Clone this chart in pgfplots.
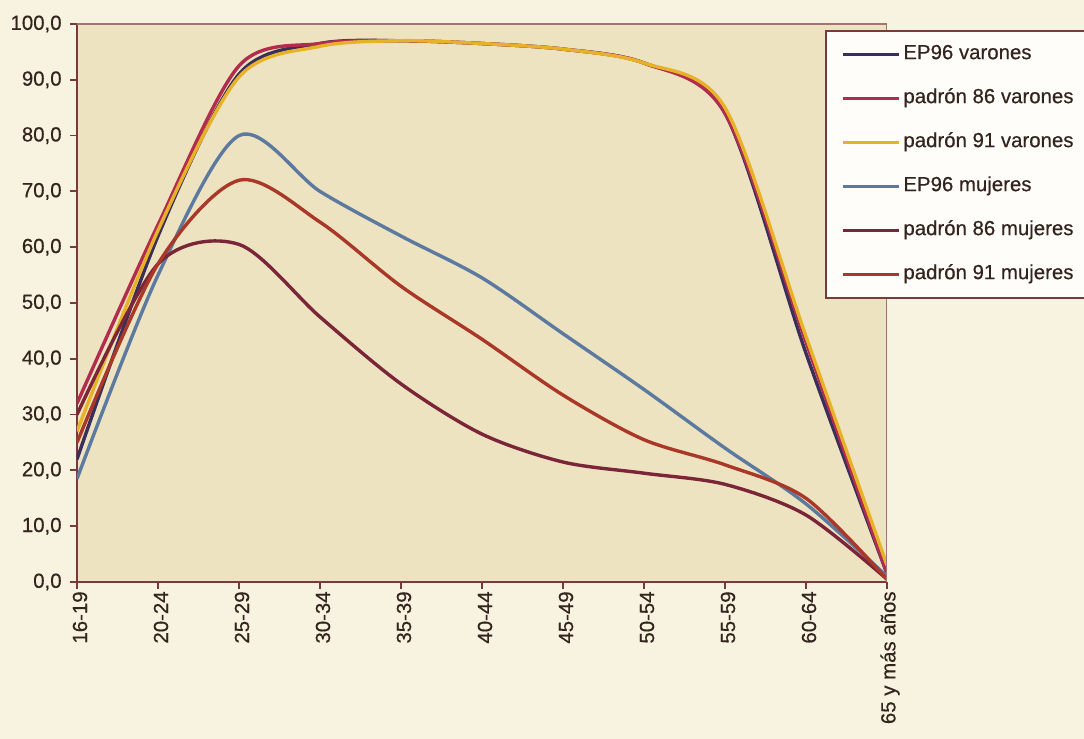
\documentclass[border=0pt]{standalone}
\usepackage{fontspec}
\setmainfont{Liberation Sans}
\newfontfamily\lbl{Liberation Sans}[FakeBold=0.5]
\usepackage{pgfplots}
\pgfplotsset{compat=1.18}
\usepackage{pgfplotstable}

\definecolor{paper}{RGB}{247,243,224}
\definecolor{plotbg}{RGB}{237,227,193}
\definecolor{axisline}{RGB}{120,58,60}
\definecolor{labeltxt}{RGB}{52,36,30}
\definecolor{cEPvar}{RGB}{58,46,90}
\definecolor{cPochoVar}{RGB}{178,44,78}
\definecolor{cNovVar}{RGB}{232,178,40}
\definecolor{cEPmuj}{RGB}{92,122,160}
\definecolor{cPochoMuj}{RGB}{122,38,56}
\definecolor{cNovMuj}{RGB}{170,56,40}

% Tasas de actividad por grupo de edad (%)
\pgfplotstableread{
x  epvar p86var p91var epmuj p86muj p91muj
0  22.0  32.0   27.0   18.5  30.0   25.0
1  62.0  64.0   63.0   55.0  57.0   57.0
2  91.0  92.5   90.5   80.0  60.5   72.0
3  96.5  96.5   96.0   70.0  47.5   64.5
4  97.0  97.0   97.0   62.0  35.5   53.0
5  96.5  96.5   96.5   54.5  26.5   43.5
6  95.5  95.5   95.5   44.5  21.5   33.5
7  93.0  93.0   93.0   34.5  19.5   25.5
8  84.0  84.0   85.0   24.0  17.5   21.0
9  41.0  43.0   44.0   14.0  12.0   15.0
10  1.5   1.5    3.0    1.0   0.5    0.5
}\datos

\begin{document}
\begin{tikzpicture}
\fill[paper] (-38.5pt,-78.5pt) rectangle (503.5pt,291pt);
\useasboundingbox (-38.5pt,-78.5pt) rectangle (503.5pt,291pt);
\begin{axis}[
  at={(0pt,0pt)}, anchor=south west,
  width=405pt, height=279pt, scale only axis,
  xmin=0, xmax=10, ymin=0, ymax=100,
  axis lines=left,
  axis line style={-, axisline, line width=1.1pt},
  axis background/.style={fill=plotbg},
  xtick={0,...,10},
  xticklabels={16-19,20-24,25-29,30-34,35-39,40-44,45-49,50-54,55-59,60-64,65 y más años},
  ytick={0,10,...,100},
  tick align=outside,
  major tick length=3.5pt,
  tick style={axisline, line width=0.9pt},
  xticklabel style={rotate=90, anchor=east, font=\lbl\fontsize{10.2}{11}\selectfont, text=labeltxt, inner sep=1pt, yshift=-1.5pt},
  yticklabel style={font=\lbl\fontsize{10.2}{11}\selectfont, text=labeltxt, inner sep=1pt, xshift=-3pt,
    /pgf/number format/.cd, fixed, fixed zerofill, precision=1, use comma, assume math mode=true},
  legend image code/.code={\draw[#1, line width=1.3pt] (0pt,0pt) -- (28pt,0pt);},
  legend style={
    at={(0.9235,0.989)}, anchor=north west,
    draw=axisline, line width=0.8pt, fill=white!85!paper,
    inner xsep=8pt, inner ysep=7.5pt,
    row sep=13.4pt,
    font=\lbl\fontsize{10.2}{11}\selectfont, text=labeltxt,
    nodes={inner xsep=1.5pt, inner ysep=0pt, text height=6.6pt, text depth=2pt},
  },
  legend cell align=left,
  every axis plot/.append style={smooth, tension=0.5, line width=1.7pt},
]
\addplot[cEPvar]     table[x=x, y=epvar]  {\datos};
\addplot[cPochoVar]  table[x=x, y=p86var] {\datos};
\addplot[cNovVar]    table[x=x, y=p91var] {\datos};
\addplot[cEPmuj]     table[x=x, y=epmuj]  {\datos};
\addplot[cPochoMuj]  table[x=x, y=p86muj] {\datos};
\addplot[cNovMuj]    table[x=x, y=p91muj] {\datos};
\legend{EP96 varones, padrón 86 varones, padrón 91 varones, EP96 mujeres, padrón 86 mujeres, padrón 91 mujeres}
\draw[axisline!70, line width=0.6pt] (rel axis cs:0,1) -- (rel axis cs:1,1) -- (rel axis cs:1,0);
\end{axis}
\end{tikzpicture}
\end{document}
